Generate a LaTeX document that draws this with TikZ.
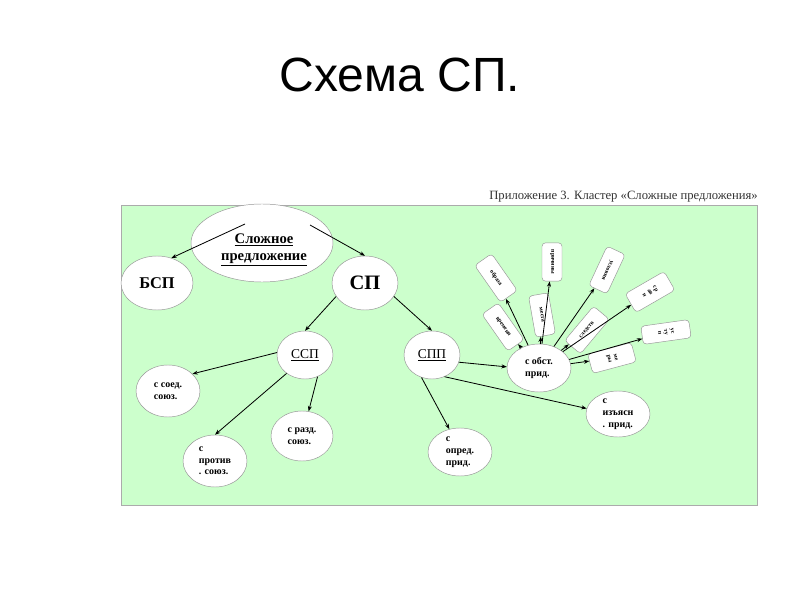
\documentclass[tikz,border=0pt]{standalone}
\usepackage{fontspec}
\setmainfont{Liberation Serif}
\newfontfamily\titlefont{Liberation Sans}
\usepackage{tikz}
\usepackage{xcolor}
\usetikzlibrary{shapes.geometric, arrows.meta, calc}
\definecolor{cPanel}{RGB}{204,255,204}
\definecolor{cEdge}{RGB}{150,150,150}
\tikzset{
	bubble/.style={ellipse, draw=cEdge, fill=white, inner sep=0pt, align=left, font=\bfseries\fontsize{8.5}{10}\selectfont},
	tag/.style   ={rectangle, rounded corners=3pt, draw=cEdge, fill=white, inner sep=1pt, align=center, font=\bfseries\fontsize{5}{5.5}\selectfont},
	link/.style  ={-{Stealth[length=1.6mm, width=1.2mm]}, line width=0.7pt},
}
\begin{document}
\begin{tikzpicture}[x=0.3mm, y=-0.3mm]
	\useasboundingbox (0,0) rectangle (800,600);
	% title and panel
	\node[font=\titlefont\fontsize{41}{46}\selectfont] (title) at (400,75) {Схема СП.};
	\draw[cEdge!80, fill=cPanel] (121,205) rectangle (757,505);
	\node[anchor=east, inner sep=0pt, font=\fontsize{10.8}{12}\selectfont, text=black!80] (cap) at (758,197) {Приложение 3. Кластер «Сложные предложения»};
	% main tree
	\node[bubble, minimum width=4.26cm, minimum height=2.34cm] (slozh) at (262,243) {};
	\node[align=center, font=\bfseries\fontsize{12.5}{15}\selectfont] (slozhtxt) at (264,250) {\underline{Сложное}\\ \underline{предложение}};
	\node[bubble, minimum width=2.16cm, minimum height=1.62cm, font=\bfseries\fontsize{14}{16}\selectfont] (bsp) at (157,283) {БСП};
	\node[bubble, minimum width=1.98cm, minimum height=1.62cm, font=\bfseries\fontsize{17.5}{20}\selectfont] (sp) at (365,283) {СП};
	\node[bubble, minimum width=1.68cm, minimum height=1.44cm, font=\fontsize{11.5}{13}\selectfont] (ssp) at (305,355) {\underline{ССП}};
	\node[bubble, minimum width=1.68cm, minimum height=1.44cm, font=\fontsize{11.5}{13}\selectfont] (spp) at (432,355) {\underline{СПП}};
	\node[bubble, minimum width=1.92cm, minimum height=1.56cm] (soed) at (168,391) {с соед.\\союз.};
	\node[bubble, minimum width=1.86cm, minimum height=1.50cm] (razd) at (302,436) {с разд.\\союз.};
	\node[bubble, minimum width=1.92cm, minimum height=1.56cm] (protiv) at (215,461) {с\\против\\. союз.};
	\node[bubble, minimum width=1.92cm, minimum height=1.44cm] (opred) at (460,452) {с\\опред.\\прид.};
	\node[bubble, minimum width=1.92cm, minimum height=1.38cm] (izyasn) at (618,414) {с\\изъясн\\. прид.};
	\node[bubble, minimum width=1.92cm, minimum height=1.44cm] (obst) at (539,368) {с обст.\\прид.};
	% kinds of adverbial clauses
	\node[tag, rotate=-55, minimum width=1.35cm, minimum height=0.62cm] (obraz) at (496,278) {образа};
	\node[tag, rotate=-90, minimum width=1.15cm, minimum height=0.60cm] (prich) at (552,262) {причины};
	\node[tag, rotate=-115, minimum width=1.30cm, minimum height=0.60cm] (uslov) at (607,270) {условия};
	\node[tag, rotate=-60, minimum width=0.65cm, minimum height=1.35cm] (sravn) at (650,292) {ср\\ав\\н};
	\node[tag, rotate=-82, minimum width=0.55cm, minimum height=1.45cm] (ustup) at (666,332) {ус\\ту\\п};
	\node[tag, rotate=-55, minimum width=1.35cm, minimum height=0.60cm] (vrem) at (503,327) {времени};
	\node[tag, rotate=-80, minimum width=1.25cm, minimum height=0.60cm] (mest) at (542,315) {места};
	\node[tag, rotate=50, minimum width=1.35cm, minimum height=0.62cm] (sledst) at (587,330) {следств};
	\node[tag, rotate=-75, minimum width=0.60cm, minimum height=1.35cm] (mery) at (612,358) {ме\\ры};
	% connectors
	\draw[link] ($(slozh)+(-17,-19)$) -- (bsp.60);
	\draw[link] ($(slozh)+(48,-18)$) -- (sp.north);
	\draw[link] (sp.205) -- (ssp.north);
	\draw[link] (sp.-25) -- (spp.north);
	\draw[link] (ssp.175) -- (soed.35);
	\draw[link] (ssp.225) -- (protiv.north);
	\draw[link] (ssp.-60) -- (razd.75);
	\draw[link] (spp.245) -- (opred.115);
	\draw[link] (spp.-60) -- (izyasn.170);
	\draw[link] (spp.-15) -- (obst.178);
	\foreach \k in {obraz, prich, uslov, sravn, ustup, vrem, mest, sledst, mery}
		\draw[link] (obst) -- (\k);
\end{tikzpicture}
\end{document}
